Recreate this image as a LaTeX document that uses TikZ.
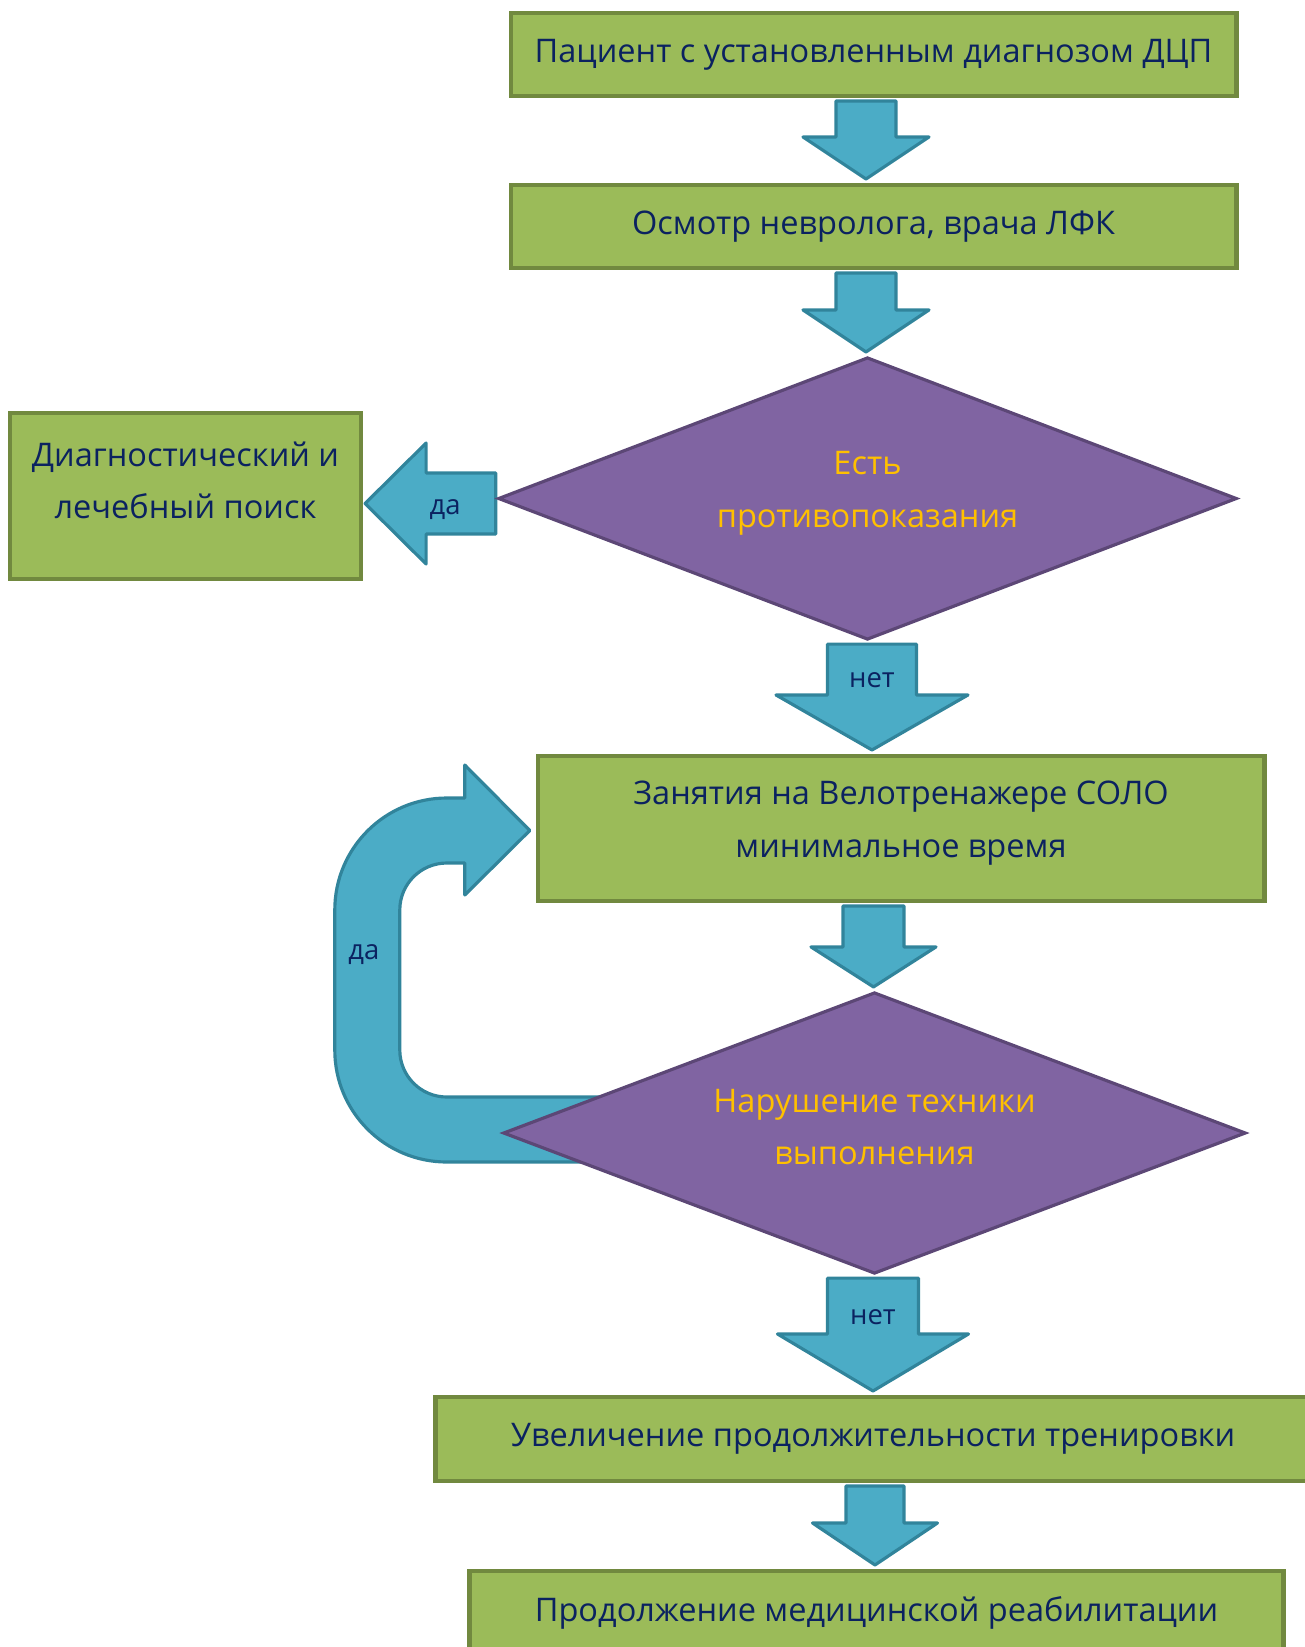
\documentclass[tikz,border=0pt]{standalone}
\usepackage{fontspec}
\setmainfont{Open Sans}
\usetikzlibrary{shapes.geometric,calc}

\definecolor{boxgreen}{HTML}{9BBB59}
\definecolor{boxedge}{HTML}{71893F}
\definecolor{arrblue}{HTML}{4BACC6}
\definecolor{arredge}{HTML}{31849B}
\definecolor{decpurple}{HTML}{8064A2}
\definecolor{decedge}{HTML}{5C4776}
\definecolor{navytext}{HTML}{0B2260}
\definecolor{decorange}{HTML}{FFC000}

\pgfdeclarelayer{back}
\pgfsetlayers{back,main}

\tikzset{
	stepbox/.style={rectangle, draw=boxedge, fill=boxgreen, line width=1.3pt, text=navytext,
		align=center, inner sep=0pt, outer sep=0pt, font=\fontsize{9.25}{14.9}\selectfont},
	decision/.style={diamond, draw=decedge, fill=decpurple, line width=0.9pt, text=decorange,
		align=center, inner sep=0pt, outer sep=0pt, font=\fontsize{9.25}{14.9}\selectfont},
	blockarrow/.style={draw=arredge, fill=arrblue, line width=0.9pt, line join=round},
	arrlabel/.style={text=navytext, inner sep=0pt, font=\fontsize{7.8}{9.6}\selectfont}
}

% down block arrow: from, to, x shift, stem half, head half, head length, label
\newcommand\vblock[7]{%
	\path ($(#1.south)+(#3,-5)$) coordinate (s);
	\path ($(s |- #2.north)+(0,6)$) coordinate (e);
	\draw[blockarrow] ($(s)+(-#4,0)$) -- ($(e)+(-#4,#6)$) -- ($(e)+(-#5,#6)$) -- (e)
		-- ($(e)+(#5,#6)$) -- ($(e)+(#4,#6)$) -- ($(s)+(#4,0)$) -- cycle;
	\if\relax\detokenize{#7}\relax\else
		\node[arrlabel] at ($(s)!0.5!(e)+(0,17)$) {#7};
	\fi
}

\begin{document}
\begin{tikzpicture}[x=0.01cm,y=0.01cm]
	\useasboundingbox (0,0) rectangle (1305,-1647);
	\clip (0,0) rectangle (1305,-1647);

	\node[stepbox, minimum width=7.25cm, minimum height=0.83cm] (patient) at (873.5,-54.5) {Пациент с установленным диагнозом ДЦП};
	\node[stepbox, minimum width=7.25cm, minimum height=0.83cm] (exam) at (873.5,-226.5) {Осмотр невролога, врача ЛФК};
	\node[decision, aspect=2.62, minimum width=7.37cm, minimum height=2.81cm, text depth=0.18cm] (contra) at (867.5,-498.5) {Есть\\противопоказания};
	\node[stepbox, minimum width=3.51cm, minimum height=1.66cm, text depth=0.32cm] (search) at (185.5,-496) {Диагностический и\\лечебный поиск};
	\node[stepbox, minimum width=7.26cm, minimum height=1.45cm, text depth=0.19cm] (train) at (901,-828.5) {Занятия на Велотренажере СОЛО\\минимальное время};
	\node[decision, aspect=2.65, minimum width=7.41cm, minimum height=2.8cm, text depth=0.12cm] (tech) at (874.5,-1133) {Нарушение техники\\выполнения};
	\node[stepbox, minimum width=8.74cm, minimum height=0.84cm] (increase) at (873,-1439) {Увеличение продолжительности тренировки};
	\node[stepbox, minimum width=8.13cm, minimum height=0.84cm] (continue) at (876.5,-1613) {Продолжение медицинской реабилитации};

	\begin{pgfonlayer}{back}
	\vblock{patient}{exam}{-7.5}{30}{63}{42}{}
	\vblock{exam}{contra}{-7.5}{30}{63}{42}{}
	\vblock{contra}{train}{4.5}{44.5}{96}{55}{нет}
	\vblock{train}{tech}{-27.5}{30.5}{62.5}{40}{}
	\vblock{tech}{increase}{-1.5}{45.5}{95.5}{57}{нет}
	\vblock{increase}{continue}{2}{29}{62.5}{42}{}

	% yes: to the search box
	\path ($(contra.west)+(-3,-5)$) coordinate (s);
	\path ($(s -| search.east)+(4,0)$) coordinate (e);
	\draw[blockarrow] ($(s)+(0,30.5)$) -- ($(e)+(61,30.5)$) -- ($(e)+(61,60.5)$) -- (e)
		-- ($(e)+(61,-60.5)$) -- ($(e)+(61,-30.5)$) -- ($(s)+(0,-30.5)$) -- cycle;
	\node[arrlabel] at ($(e)+(80,-6.5)$) {да};

	% yes: back to training
	\draw[blockarrow] ($(train.west)+(-8,-2)$) coordinate (loop) -- ++(-65,65.5) -- ++(0,-33) -- ++(-18,0)
		arc[start angle=90, end angle=180, radius=112] -- ++(0,-140)
		arc[start angle=180, end angle=270, radius=112] -- ++(193,0) -- ++(0,65) -- ++(-193,0)
		arc[start angle=270, end angle=180, radius=47] -- ++(0,140)
		arc[start angle=180, end angle=90, radius=47] -- ++(18,0) -- ++(0,-32) -- cycle;
	\node[arrlabel] at ($(loop)+(-166,-124.5)$) {да};
	\end{pgfonlayer}
\end{tikzpicture}
\end{document}
